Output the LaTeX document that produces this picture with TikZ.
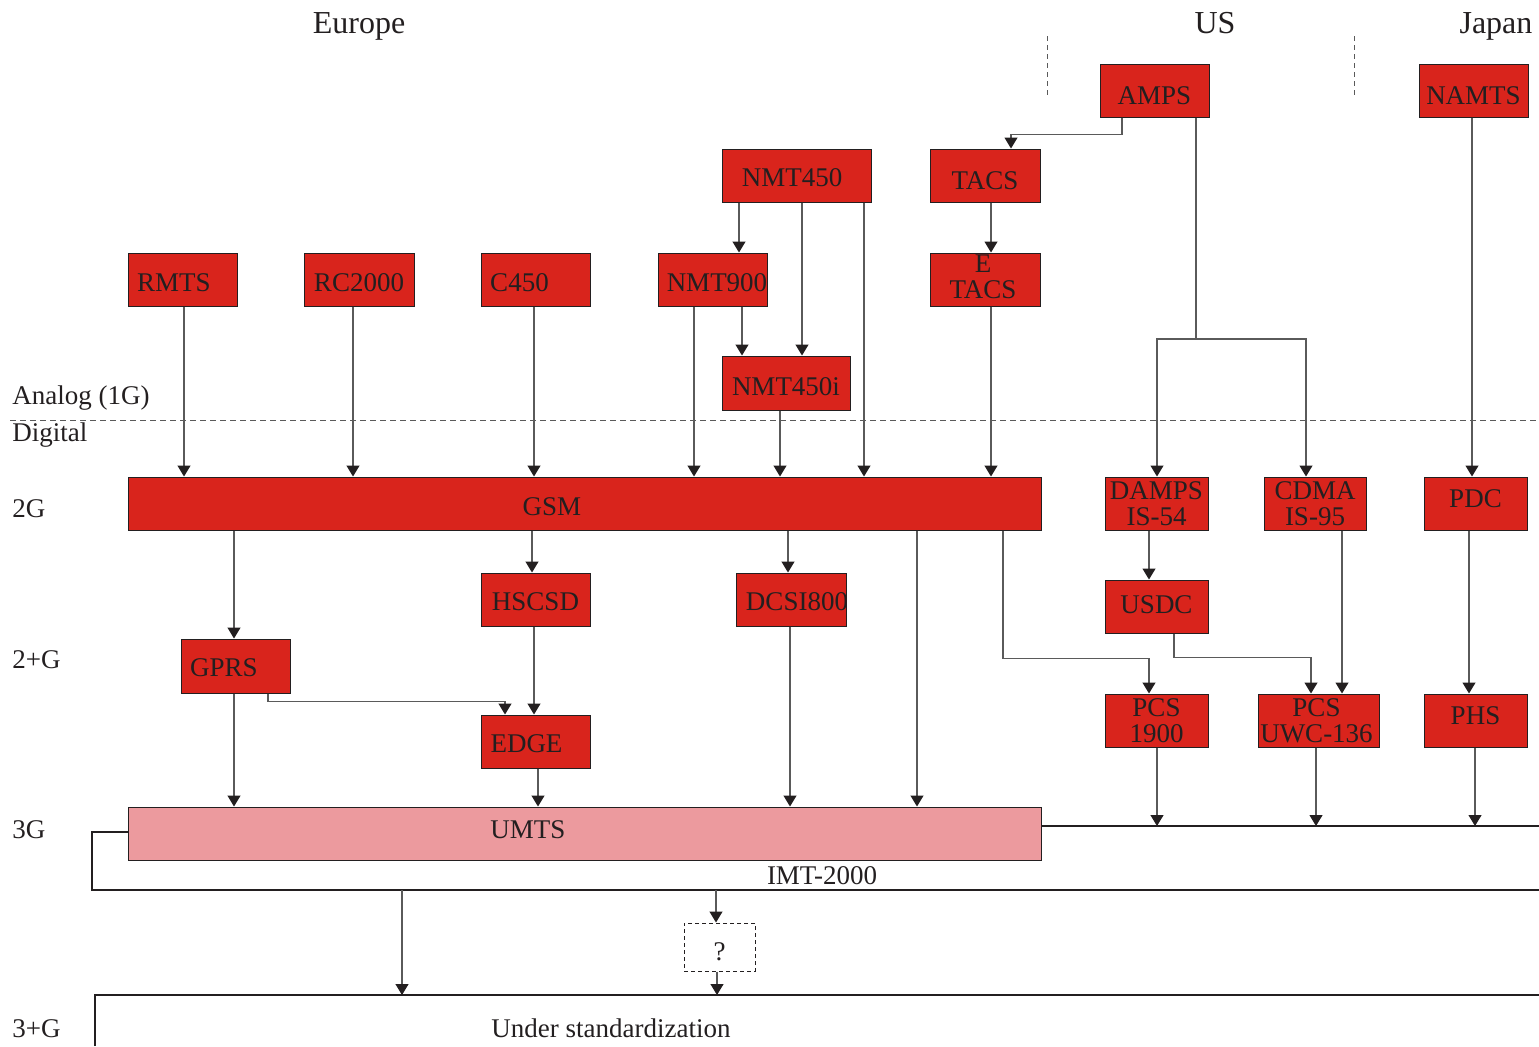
\documentclass[tikz,border=0pt]{standalone}
\usepackage{fontspec}
\setmainfont{Liberation Serif}
\usetikzlibrary{arrows.meta}
\definecolor{boxred}{RGB}{217,36,28}
\definecolor{umtspink}{RGB}{236,154,158}
\definecolor{ink}{RGB}{35,31,32}
\definecolor{wirecol}{RGB}{90,90,90}

\begin{document}
\begin{tikzpicture}[x=0.5pt,y=-0.5pt,
  font=\fontsize{13.5}{13}\selectfont, text=ink,
  sz/.style 2 args={minimum width=#1*0.5pt, minimum height=#2*0.5pt},
  box/.style={draw=ink, line width=0.5pt, fill=boxred, inner sep=0pt, align=center},
  tx/.style args={#1/#2/#3}{label={[xshift=#1pt,yshift=#2pt,align=center]center:#3}},
  wire/.style={draw=wirecol, line width=0.6pt},
  frame/.style={draw=ink, line width=0.6pt},
  arr/.style={wire, -{Triangle[width=6.5pt,length=5.5pt,color=ink]}},
  sep/.style={draw=wirecol, line width=0.5pt, dash pattern=on 3pt off 2pt},
  heading/.style={font=\fontsize{16}{16}\selectfont, anchor=base},
  lvl/.style={anchor=base west, inner sep=0pt},
]
\useasboundingbox (0,0) rectangle (1539,1046);

% region headings and separators
\node[heading] (europe) at (359,33) {Europe};
\node[heading] (us) at (1215,33) {US};
\node[heading] (japan) at (1496,33) {Japan};
\draw[sep, dash pattern=on 2.5pt off 2pt] (1047,36) -- (1047,97);
\draw[sep, dash pattern=on 2.5pt off 2pt] (1354,36) -- (1354,97);

% generation labels
\node[lvl] (lanalog) at (12,404) {Analog (1G)};
\draw[sep] (10,420) -- (1539,420);
\node[lvl] (ldigital) at (12,441) {Digital};
\node[lvl] (l2g) at (12,517) {2G};
\node[lvl] (l2pg) at (12,668) {2+G};
\node[lvl] (l3g) at (12,838) {3G};
\node[lvl] (l3pg) at (12,1037) {3+G};

% first generation systems
\node[box, sz={109}{53}, tx={0/-2.75/AMPS}] (amps) at (1154.5,90.5) {};
\node[box, sz={109}{53}, tx={0/-2.75/NAMTS}] (namts) at (1473.5,90.5) {};
\node[box, sz={149}{53}, tx={-2.25/-1.25/NMT450}] (nmt450) at (796.5,175.5) {};
\node[box, sz={110}{53}, tx={0/-2.5/TACS}] (tacs) at (985,175.5) {};
\node[box, sz={109}{53}, tx={-4.25/-1.5/RMTS}] (rmts) at (182.5,279.5) {};
\node[box, sz={110}{53}, tx={0/-1.5/RC2000}] (rc2000) at (359,279.5) {};
\node[box, sz={109}{53}, tx={-8/-1.5/C450}] (c450) at (535.5,279.5) {};
\node[box, sz={109}{53}, tx={2.25/-1.5/NMT900}] (nmt900) at (712.5,279.5) {};
\node[box, sz={110}{53}, tx={-1/1.5/E\\TACS}] (etacs) at (985,279.5) {};
\node[box, sz={128}{54}, tx={0/-2/NMT450i}] (nmt450i) at (786,383) {};

% second generation systems
\node[box, sz={913}{53}, tx={-16.25/-1.75/GSM}] (gsm) at (584.5,503.5) {};
\node[box, sz={103}{53}] (damps) at (1156.5,503.5) {DAMPS\\IS-54};
\node[box, sz={102}{53}] (cdma) at (1315,503.5) {CDMA\\IS-95};
\node[box, sz={103}{53}, tx={0/2.25/PDC}] (pdc) at (1475.5,503.5) {};

% enhanced second generation systems
\node[box, sz={109}{53}, tx={0/-1/HSCSD}] (hscsd) at (535.5,599.5) {};
\node[box, sz={110}{53}, tx={3/-1/DCSI800}] (dcs) at (791,599.5) {};
\node[box, sz={103}{53}, tx={0/1/USDC}] (usdc) at (1156.5,606.5) {};
\node[box, sz={109}{54}, tx={-5.75/-1/GPRS}] (gprs) at (235.5,666) {};
\node[box, sz={109}{53}, tx={-4.5/-1/EDGE}] (edge) at (535.5,741.5) {};
\node[box, sz={103}{53}] (pcs1900) at (1156.5,720.5) {PCS\\1900};
\node[box, sz={121}{53}, tx={-1/0/PCS\\UWC-136}] (pcsuwc) at (1318.5,720.5) {};
\node[box, sz={103}{53}, tx={0/2.25/PHS}] (phs) at (1475.5,720.5) {};

% third generation
\node[box, fill=umtspink, sz={913}{53}, tx={-28.25/2/UMTS}] (umts) at (584.5,833.5) {};
\node (imt) at (822,876) {IMT-2000};
\node[draw=ink, line width=0.5pt, dash pattern=on 2pt off 1.5pt, fill=white, sz={71}{48}, inner sep=0pt, tx={0/-2.5/?}] (q) at (719.5,947) {};
\node (std) at (611,1028) {Under standardization};

\coordinate (imtTop) at (1539,826);
\coordinate (imtBL) at (92,890);
\coordinate (imtBR) at (1539,890);
\coordinate (stdTop) at (1539,995);
\coordinate (stdTL) at (95,995);
\coordinate (stdBL) at (95,1046);

% IMT-2000 family frame and the frame of the next generation
\draw[frame] (umts.east |- imtTop) -- (imtTop);
\draw[frame] (umts.west |- 0,832) -- (imtBL |- 0,832) -- (imtBL) -- (imtBR);
\draw[frame] (stdBL) -- (stdTL) -- (stdTop);

% analog lineage
\draw[arr] (amps.south -| 1122,0) -- ++(0,17) -| (tacs.north -| 1011,0);
\draw[wire] (amps.south -| 1196,0) -- (1196,339) coordinate (split);
\draw[arr] (split) -| (damps.north -| 1157,0);
\draw[arr] (split) -| (cdma.north -| 1306,0);
\draw[arr] (namts.south -| 1472,0) -- (pdc.north -| 1472,0);
\draw[arr] (nmt450.south -| 739,0) -- (nmt900.north -| 739,0);
\draw[arr] (nmt450.south -| 802,0) -- (nmt450i.north -| 802,0);
\draw[arr] (nmt450.south -| 864,0) -- (gsm.north -| 864,0);
\draw[arr] (tacs.south -| 991,0) -- (etacs.north -| 991,0);
\draw[arr] (nmt900.south -| 742,0) -- (nmt450i.north -| 742,0);

% analog to GSM
\draw[arr] (rmts.south -| 184,0) -- (gsm.north -| 184,0);
\draw[arr] (rc2000.south -| 353,0) -- (gsm.north -| 353,0);
\draw[arr] (c450.south -| 534,0) -- (gsm.north -| 534,0);
\draw[arr] (nmt900.south -| 694,0) -- (gsm.north -| 694,0);
\draw[arr] (nmt450i.south -| 780,0) -- (gsm.north -| 780,0);
\draw[arr] (etacs.south -| 991,0) -- (gsm.north -| 991,0);

% second generation evolution
\draw[arr] (gsm.south -| 234,0) -- (gprs.north -| 234,0);
\draw[arr] (gsm.south -| 532,0) -- (hscsd.north -| 532,0);
\draw[arr] (gsm.south -| 788,0) -- (dcs.north -| 788,0);
\draw[arr] (gsm.south -| 917,0) -- (umts.north -| 917,0);
\draw[arr] (gsm.south -| 1003,0) -- ++(0,128) -| (pcs1900.north -| 1149,0);
\draw[arr] (damps.south -| 1149,0) -- (usdc.north -| 1149,0);
\draw[arr] (usdc.south -| 1174,0) -- ++(0,24) -| (pcsuwc.north -| 1311,0);
\draw[arr] (cdma.south -| 1342,0) -- (pcsuwc.north -| 1342,0);
\draw[arr] (pdc.south -| 1469,0) -- (phs.north -| 1469,0);
\draw[arr] (gprs.south -| 268,0) -- ++(0,8) -| (edge.north -| 505,0);
\draw[arr] (hscsd.south -| 534,0) -- (edge.north -| 534,0);

% towards the third generation
\draw[arr] (gprs.south -| 234,0) -- (umts.north -| 234,0);
\draw[arr] (edge.south -| 538,0) -- (umts.north -| 538,0);
\draw[arr] (dcs.south -| 790,0) -- (umts.north -| 790,0);
\draw[arr] (pcs1900.south -| 1157,0) -- (imtTop -| 1157,0);
\draw[arr] (pcsuwc.south -| 1316,0) -- (imtTop -| 1316,0);
\draw[arr] (phs.south -| 1475,0) -- (imtTop -| 1475,0);

% beyond the third generation
\draw[arr] (imtBL -| 402,0) -- (stdTL -| 402,0);
\draw[arr] (imtBL -| 716,0) -- (q.north -| 716,0);
\draw[arr] (q.south -| 717,0) -- (stdTL -| 717,0);
\end{tikzpicture}
\end{document}
